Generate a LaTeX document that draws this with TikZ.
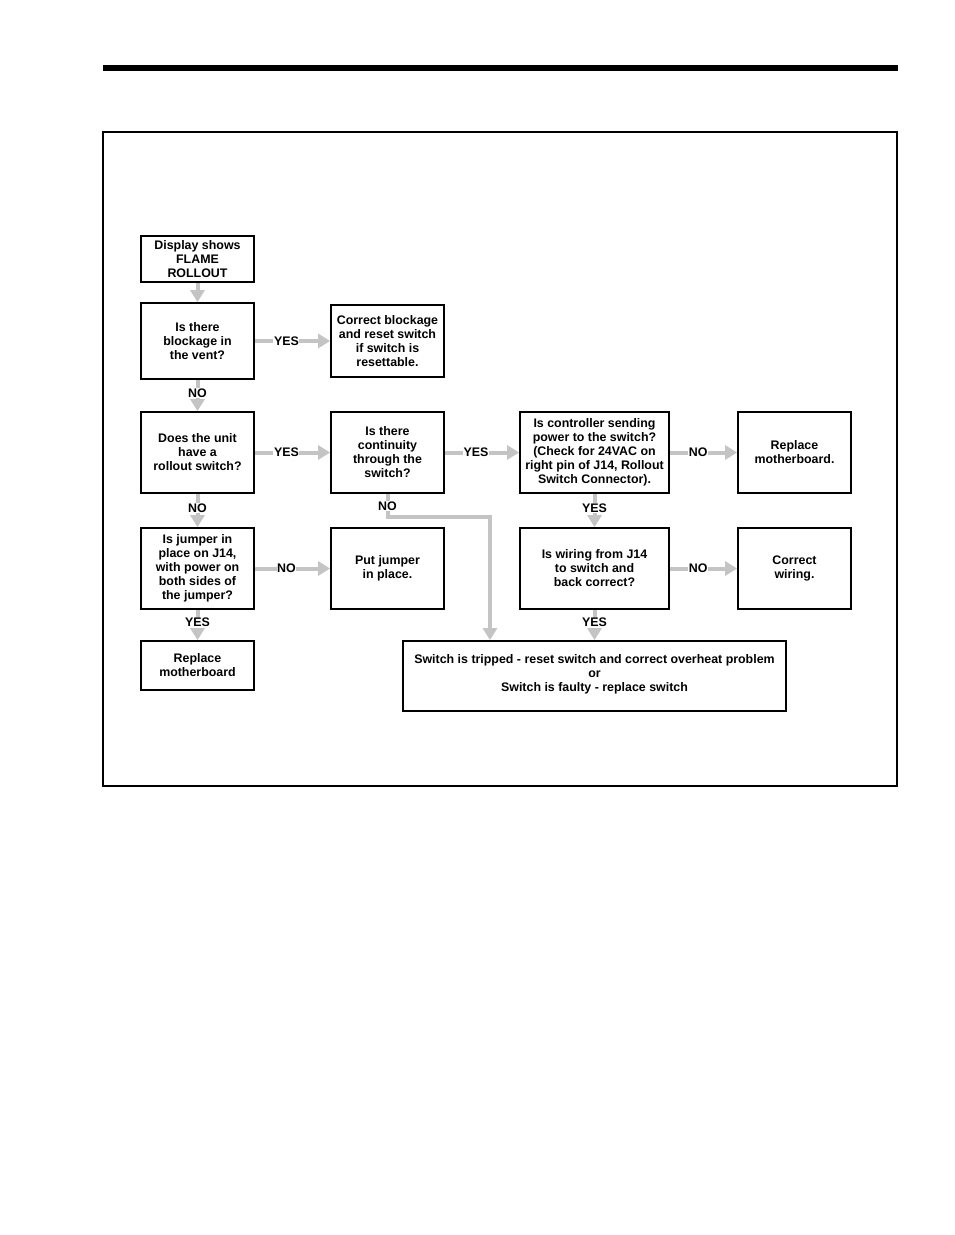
\documentclass[tikz,border=0pt]{standalone}
\usepackage{fontspec}
\setmainfont{Liberation Sans}
\usetikzlibrary{arrows.meta}
\definecolor{arrgray}{RGB}{196,196,196}
\begin{document}
\begin{tikzpicture}[x=1pt,y=-1pt,
  box/.style={draw=black, line width=1.8pt, align=center, inner sep=2pt,
    font=\fontsize{12.4}{14}\selectfont\bfseries},
  arr/.style={draw=arrgray, line width=4pt, -{Triangle[length=12pt,width=14pt]}},
  lbl/.style={fill=white, inner sep=0.6pt, pos=0.42, font=\fontsize{12.4}{14}\selectfont\bfseries, text=black}]
\useasboundingbox[fill=white] (0,0) rectangle (954,1235);
% header bar and frame
\fill[black] (103,65) rectangle (898,71);
\draw[line width=1.3pt] (103,132) rectangle (897,786);
% boxes
\node[box, minimum width=113pt, minimum height=46pt] (b1) at (197.5,259) {Display shows\\FLAME\\ROLLOUT};
\node[box, minimum width=113pt, minimum height=76pt] (b2) at (197.5,341) {Is there\\blockage in\\the vent?};
\node[box, minimum width=113pt, minimum height=72pt] (b3) at (387.5,341) {Correct blockage\\and reset switch\\if switch is\\resettable.};
\node[box, minimum width=113pt, minimum height=81pt] (b4) at (197.5,452.5) {Does the unit\\have a\\rollout switch?};
\node[box, minimum width=113pt, minimum height=81pt] (b5) at (387.5,452.5) {Is there\\continuity\\through the\\switch?};
\node[box, minimum width=149pt, minimum height=81pt] (b6) at (594.5,452.5) {Is controller sending\\power to the switch?\\(Check for 24VAC on\\right pin of J14, Rollout\\Switch Connector).};
\node[box, minimum width=113pt, minimum height=81pt] (b7) at (794.5,452.5) {Replace\\motherboard.};
\node[box, minimum width=113pt, minimum height=81pt] (b8) at (197.5,568.5) {Is jumper in\\place on J14,\\with power on\\both sides of\\the jumper?};
\node[box, minimum width=113pt, minimum height=81pt] (b9) at (387.5,568.5) {Put jumper\\in place.};
\node[box, minimum width=149pt, minimum height=81pt] (b10) at (594.5,568.5) {Is wiring from J14\\to switch and\\back correct?};
\node[box, minimum width=113pt, minimum height=81pt] (b11) at (794.5,568.5) {Correct\\wiring.};
\node[box, minimum width=113pt, minimum height=49pt] (b12) at (197.5,665.5) {Replace\\motherboard};
\node[box, minimum width=383pt, minimum height=70pt] (b13) at (594.5,676) {Switch is tripped - reset switch and correct overheat problem\\or\\Switch is faulty - replace switch\\[-8pt]};
% connectors
\coordinate (k) at (490,517);
\draw[arr] (b1) -- (b2);
\draw[arr] (b2) -- node[lbl] {YES} (b3);
\draw[arr] (b2) -- node[lbl] {NO} (b4);
\draw[arr] (b4) -- node[lbl] {YES} (b5);
\draw[arr] (b5) -- node[lbl] {YES} (b6);
\draw[arr] (b6) -- node[lbl] {NO} (b7);
\draw[arr] (b4) -- node[lbl] {NO} (b8);
\draw[arr] (b6) -- node[lbl] {YES} (b10);
\draw[arr] (b8) -- node[lbl] {NO} (b9);
\draw[arr] (b10) -- node[lbl] {NO} (b11);
\draw[arr] (b8) -- node[lbl] {YES} (b12);
\draw[arr] (b10) -- node[lbl] {YES} (b13);
\draw[arr] (b5.south) |- node[lbl, pos=0.27] {NO} (k) -- (k |- b13.north);
\end{tikzpicture}
\end{document}
